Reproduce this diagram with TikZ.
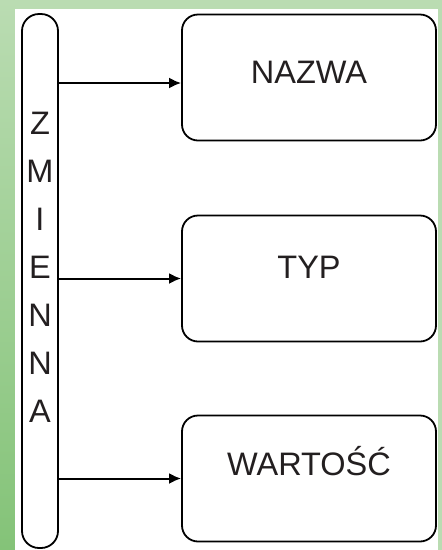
\documentclass[tikz,border=0pt]{standalone}
\usepackage{fontspec}
\setmainfont{Liberation Sans}
\usetikzlibrary{positioning, arrows.meta}
\definecolor{leafpale}{RGB}{186,220,178}
\definecolor{leafdeep}{RGB}{132,195,120}
\definecolor{inkdark}{RGB}{35,31,32}

\begin{document}
\begin{tikzpicture}[x=1pt, y=-1pt,
    font=\fontsize{32.5}{39}\selectfont, color=inkdark,
    pill/.style={rectangle, draw=black, line width=1.8pt,
                 rounded corners=17pt, fill=white,
                 minimum width=36pt, minimum height=534pt},
    letter/.style={inner sep=0pt, text height=23.3pt, text depth=0pt},
    field/.style={rectangle, draw=black, line width=1.8pt,
                  rounded corners=16pt, fill=white,
                  minimum width=254pt, minimum height=126pt,
                  text height=23.3pt},
    link/.style={draw=black, line width=2pt,
                 -{Latex[length=12pt, width=11pt]}},
]
\useasboundingbox (0,0) rectangle (442,550);

% ─── Background frame ────────────────────────────────────────────
\fill[leafpale] (0,0) rectangle (442,550);
\shade[top color=leafpale, bottom color=leafdeep] (0,0) rectangle (15,550);
\fill[white] (15,9) rectangle (438,550);

% ─── Variable pill (vertical label) ──────────────────────────────
\node[pill] (zmienna) at (40, 281) {};
\foreach \ch/\i in {Z/0, M/1, I/2, E/3, N/4, N/5, A/6}
  \node[letter] (ch\i) at (40, 123+48*\i) {\ch};

% ─── Three properties ────────────────────────────────────────────
\node[field, text depth=11pt] (nazwa)   at (309, 77.5)  {NAZWA};
\node[field, text depth=23pt] (typ)     at (309, 278.5) {TYP};
\node[field, text depth=29pt] (wartosc) at (309, 478.5) {WARTOŚĆ};
\coordinate (nazwain) at ([yshift=-5.5pt]nazwa.west);

% ─── Connectors ──────────────────────────────────────────────────
\draw[link] (zmienna.east |- nazwain) -- (nazwain);
\draw[link] (zmienna.east |- typ.west) -- (typ.west);
\draw[link] (zmienna.east |- wartosc.west) -- (wartosc.west);

\end{tikzpicture}
\end{document}
